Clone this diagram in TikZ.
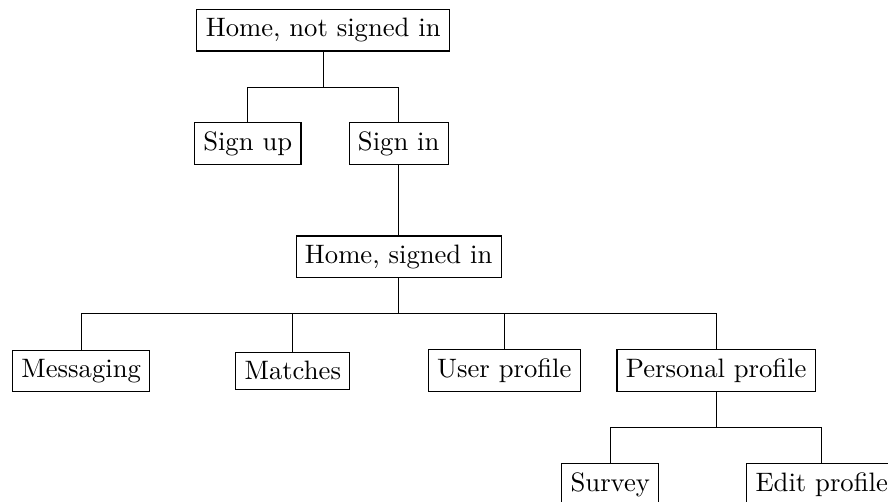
\documentclass[tikz,border=0pt]{standalone}
\begin{document}
\begin{tikzpicture}[x=0.37523pt,y=-0.37523pt,
  box/.style={draw, inner sep=3.333pt, font=\normalsize},
  conn/.style={draw, line width=0.4pt}]
\useasboundingbox (0,0) rectangle (888,502);
\node[box] (root) at (323.2,30.1) {Home, not signed in};
\node[box] (signup) at (247.7,143.8) {Sign up};
\node[box] (signin) at (398.7,143.8) {Sign in};
\node[box] (homein) at (398.7,256.9) {Home, signed in};
\node[box] (msg) at (81.2,370.8) {Messaging};
\node[box] (match) at (292.8,370.8) {Matches};
\node[box] (user) at (504.3,370.8) {User profile};
\node[box] (pers) at (716.2,370.8) {Personal profile};
\node[box] (survey) at (610.3,484.5) {Survey};
\node[box] (edit) at (821.7,484.5) {Edit profile};
\coordinate (f1) at (0,87.3);
\coordinate (f2) at (0,313.5);
\coordinate (f3) at (0,427.4);
\draw[conn] (root.south) -- (root.south |- f1) -| (signup.north);
\draw[conn] (root.south |- f1) -| (signin.north);
\draw[conn] (signin.south) -- (homein.north);
\draw[conn] (homein.south) -- (homein.south |- f2) -| (msg.north);
\draw[conn] (homein.south |- f2) -| (match.north);
\draw[conn] (homein.south |- f2) -| (user.north);
\draw[conn] (homein.south |- f2) -| (pers.north);
\draw[conn] (pers.south) -- (pers.south |- f3) -| (survey.north);
\draw[conn] (pers.south |- f3) -| (edit.north);
\end{tikzpicture}
\end{document}
